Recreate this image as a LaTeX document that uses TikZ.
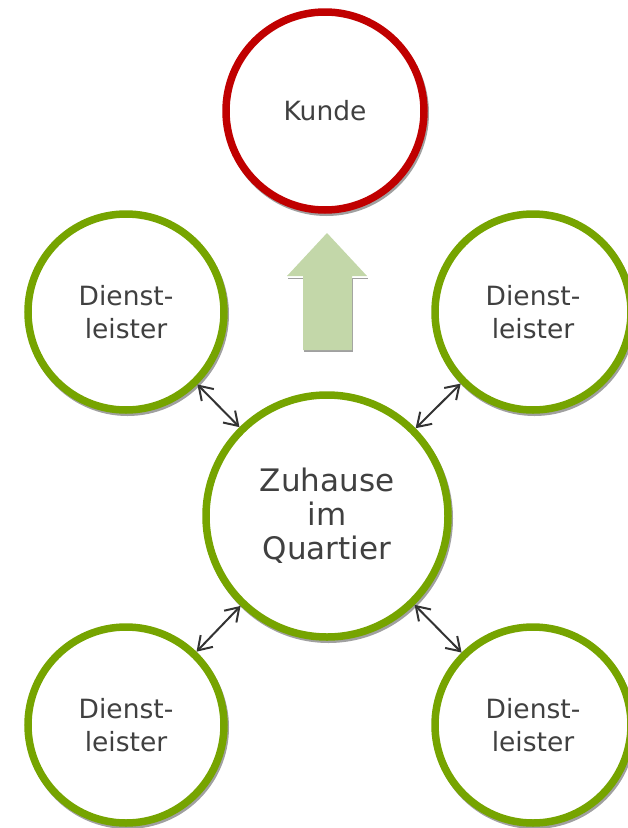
\documentclass[tikz,border=0pt]{standalone}
\usepackage{fontspec}
\setmainfont{DejaVu Sans}
\usetikzlibrary{arrows.meta}
\definecolor{ringgreen}{HTML}{76A400}
\definecolor{ringred}{HTML}{C00000}
\definecolor{textgray}{HTML}{404040}
\definecolor{arrowgreen}{HTML}{C3D7A9}
\definecolor{shadowgray}{HTML}{A0A0A0}
\tikzset{
  ring/.style={circle, draw=ringgreen, line width=7.5pt, fill=white, inner sep=0pt,
    text=textgray, align=center, font=\fontsize{26.5}{33}\selectfont},
  smallring/.style={ring, minimum size=196pt},
  bigring/.style={ring, minimum size=242pt, font=\fontsize{31}{34}\selectfont},
  redring/.style={ring, draw=ringred, minimum size=198pt},
  barb/.tip={Straight Barb[length=13pt,width=17pt]},
  link/.style={draw=black!80, line width=2pt, barb-barb},
  ringshadow/.style={fill=shadowgray}
}
\begin{document}
\begin{tikzpicture}[x=1pt,y=-1pt]
\useasboundingbox (0,0) rectangle (628,828);
% soft shadows under the rings
\foreach \cx/\cy/\r in {325/111/102.5, 126/312/101.5, 533/312/101.5, 126/725/101.5, 533/725/101.5, 327/516/124.5}
  \fill[ringshadow] (\cx+1.5,\cy+2.5) circle (\r);
% upward arrow with its shadow
\fill[shadowgray] (304,278) -- (304,352) -- (353,352) -- (353,278) -- cycle;
\fill[shadowgray] (288,278) rectangle (368,279);
\fill[arrowgreen] (327,233) -- (287,276) -- (303,276) -- (303,350) -- (352,350) -- (352,276) -- (367,276) -- cycle;
% rings
\node[redring] (kunde) at (325,111) {Kunde};
\node[smallring] (tl) at (126,312) {Dienst-\\leister};
\node[smallring] (tr) at (533,312) {Dienst-\\leister};
\node[smallring] (bl) at (126,725) {Dienst-\\leister};
\node[smallring] (br) at (533,725) {Dienst-\\leister};
\node[bigring] (home) at (327,516) {Zuhause\\im\\Quartier};
% links between the center and the service providers
\draw[link] (tl) -- (home);
\draw[link] (tr) -- (home);
\draw[link] (bl) -- (home);
\draw[link] (br) -- (home);
\end{tikzpicture}
\end{document}
